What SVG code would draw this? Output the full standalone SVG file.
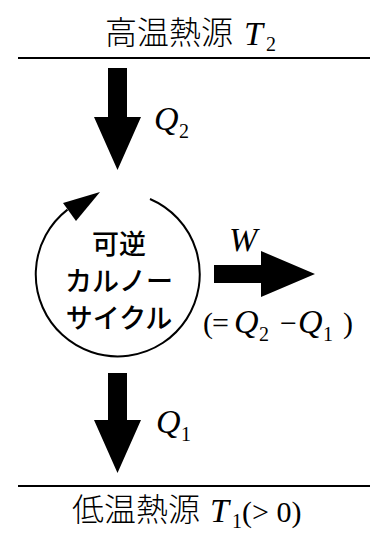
<svg xmlns="http://www.w3.org/2000/svg" width="379" height="533" viewBox="0 0 379 533">
<style>
.jp{font-family:"Noto Sans CJK JP",sans-serif;font-size:32px;fill:#000;font-weight:300}
.jc{font-family:"Noto Sans CJK JP",sans-serif;font-size:27px;fill:#000;font-weight:500;text-anchor:middle}
.m{font-family:"Liberation Serif",serif;font-style:italic;fill:#000}
.r{font-family:"Liberation Serif",serif;fill:#000}
.ln{stroke:#000;stroke-width:2;fill:none}
.ar{fill:#000;stroke:none}
</style>
<rect width="379" height="533" fill="#fff"/>
<g id="hot">
<line class="ln" x1="18" y1="58" x2="370" y2="58"/>
<text class="jp" x="105" y="44">高温熱源</text>
<text class="m" x="244" y="45" font-size="34">T</text>
<text class="r" x="266" y="51" font-size="20">2</text>
</g>
<g id="cycle">
<path class="ln" d="M150,199 A82,82 0 1 1 67.5,209.6"/>
<polygon class="ar" points="100,192 63,203 76,221"/>
<text class="jc" x="119" y="254">可逆</text>
<text class="jc" x="119" y="291">カルノー</text>
<text class="jc" x="119" y="328">サイクル</text>
</g>
<g id="cold">
<line class="ln" x1="18" y1="486" x2="370" y2="486"/>
<text class="jp" x="72" y="521">低温熱源</text>
<text class="m" x="210" y="522" font-size="34">T</text>
<text class="r" x="232" y="528" font-size="20">1</text>
<text class="r" x="242" y="522" font-size="30">(&gt; 0)</text>
</g>
<g id="connectors">
<polygon class="ar" points="108,68 127,68 127,117 141,117 117.5,170 94,117 108,117"/>
<text class="m" x="154" y="130" font-size="34">Q</text>
<text class="r" x="179" y="138" font-size="20">2</text>
<polygon class="ar" points="214,265 261,265 261,251 315,274 261,297 261,283 214,283"/>
<text class="m" x="229" y="251" font-size="34">W</text>
<text class="r" x="203" y="333" font-size="30">(</text>
<text class="r" x="212" y="333" font-size="30">=</text>
<text class="m" x="234" y="333" font-size="34">Q</text>
<text class="r" x="259" y="341" font-size="20">2</text>
<text class="r" x="280" y="333" font-size="30">−</text>
<text class="m" x="298" y="333" font-size="34">Q</text>
<text class="r" x="323" y="341" font-size="20">1</text>
<text class="r" x="343" y="333" font-size="30">)</text>
<polygon class="ar" points="108,373 127,373 127,420 141,420 117.5,473 94,420 108,420"/>
<text class="m" x="156" y="433" font-size="34">Q</text>
<text class="r" x="181" y="441" font-size="20">1</text>
</g>
</svg>
